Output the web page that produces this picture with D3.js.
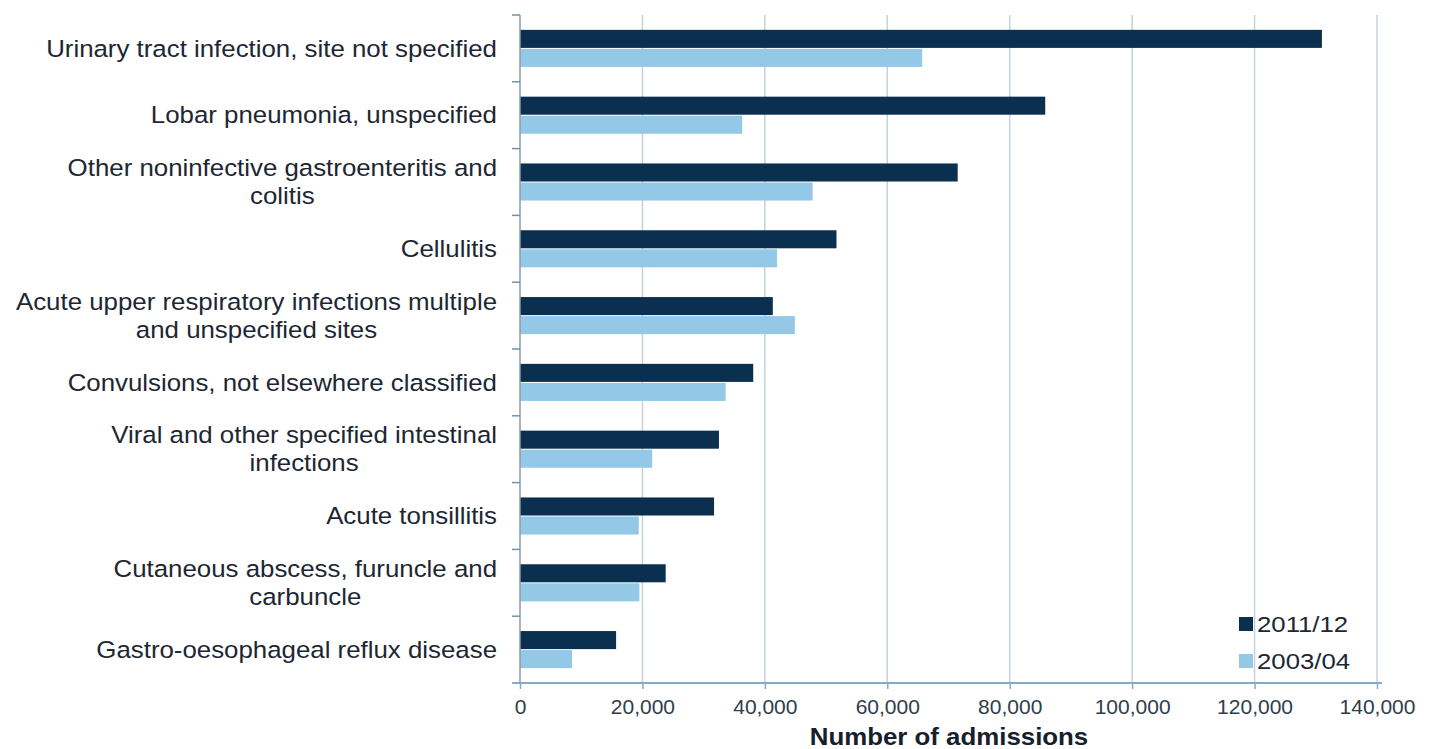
<!DOCTYPE html>
<html><head><meta charset="utf-8">
<script src="https://cdn.jsdelivr.net/npm/d3@7"></script>
<style>
html,body{margin:0;padding:0;background:#fff;}
text{font-family:"Liberation Sans",Arial,sans-serif;}
</style></head>
<body>
<svg id="chart" width="1434" height="749"></svg>
<script>
const categories = [
  "Urinary tract infection, site not specified",
  "Lobar pneumonia, unspecified",
  "Other noninfective gastroenteritis and\ncolitis",
  "Cellulitis",
  "Acute upper respiratory infections multiple\nand unspecified sites",
  "Convulsions, not elsewhere classified",
  "Viral and other specified intestinal\ninfections",
  "Acute tonsillitis",
  "Cutaneous abscess, furuncle and\ncarbuncle",
  "Gastro-oesophageal reflux disease"
];
const seriesNames = ["2011/12", "2003/04"];
const values2011 = [131000, 85800, 71500, 51700, 41300, 38100, 32500, 31700, 23800, 15700];
const values2003 = [65700, 36300, 47800, 42000, 44900, 33600, 21600, 19400, 19500, 8500];
const xTicks = [0, 20000, 40000, 60000, 80000, 100000, 120000, 140000];
const colors = ["#0b2f4e", "#93c9e6"];

(function () {
const svg = d3.select("#chart");
const pLeft = 520, pRight = 1377, pTop = 15, pBottom = 683;
const SX = 1.1;

const x = d3.scaleLinear().domain([0, 140000]).range([pLeft, pRight]);
const y = d3.scaleBand().domain(categories).range([pTop, pBottom]).paddingInner(0.43).paddingOuter(0.215);
const inner = d3.scaleBand().domain(seriesNames).range([0, y.bandwidth()]);

// gridlines
svg.append("g").selectAll("line").data(xTicks.slice(1)).join("line")
  .attr("x1", d => x(d)).attr("x2", d => x(d))
  .attr("y1", pTop).attr("y2", pBottom)
  .attr("stroke", "#c3d2df").attr("stroke-width", 1.5);

// bars
const data = categories.map((c, i) => ({c, v: [values2011[i], values2003[i]]}));
const g = svg.append("g").selectAll("g").data(data).join("g")
  .attr("transform", d => `translate(0,${y(d.c)})`);
g.selectAll("rect").data(d => d.v.map((v, j) => ({v, s: seriesNames[j], j}))).join("rect")
  .attr("x", x(0)).attr("y", d => inner(d.s) + 0.5)
  .attr("width", d => x(d.v) - x(0)).attr("height", inner.bandwidth() - 1)
  .attr("fill", d => colors[d.j]);

// left axis line and ticks
const bandStep = (pBottom - pTop) / categories.length;
svg.append("line").attr("x1", pLeft).attr("x2", pLeft).attr("y1", pTop).attr("y2", pBottom)
  .attr("stroke", "#8c9aa6").attr("stroke-width", 1.5);
svg.append("g").selectAll("line").data(d3.range(categories.length + 1)).join("line")
  .attr("x1", pLeft - 8).attr("x2", pLeft)
  .attr("y1", i => pTop + i * bandStep).attr("y2", i => pTop + i * bandStep)
  .attr("stroke", "#6f93ad").attr("stroke-width", 1.5);

// bottom axis
const xAxis = d3.axisBottom(x).tickValues(xTicks).tickFormat(d3.format(",")).tickSize(6).tickSizeOuter(0);
const ax = svg.append("g").attr("transform", `translate(0,${pBottom})`).call(xAxis);
ax.select(".domain").attr("stroke", "#86aac3").attr("stroke-width", 2).attr("d", `M${pLeft - 5},0H${pRight + 5}`);
ax.selectAll(".tick line").attr("stroke", "#86aac3").attr("stroke-width", 1.5);
ax.selectAll(".tick text").attr("font-size", 21).attr("fill", "#2f3d4b").attr("y", 12).attr("dy", "0.9em")
  .style("font-family", "'Liberation Sans', Arial, sans-serif");

// axis title
svg.append("g").attr("transform", `translate(949,745) scale(${SX},1)`)
  .append("text").attr("x", 0).attr("y", 0).attr("text-anchor", "middle")
  .attr("font-size", 23.5).attr("font-weight", "bold").attr("fill", "#15202b")
  .text("Number of admissions");

// category labels (centered lines, right-aligned block)
const rightEdge = 497;
const labelG = svg.append("g").attr("transform", `translate(${rightEdge},0) scale(${SX},1)`);
categories.forEach(c => {
  const lines = c.split("\n");
  const cy = y(c) + y.bandwidth() / 2;
  const t = labelG.append("text").attr("font-size", 23.5).attr("fill", "#1d2733");
  const lh = 28;
  lines.forEach((ln, k) => {
    t.append("tspan").attr("y", cy + (k - (lines.length - 1) / 2) * lh).attr("dy", "0.35em").text(ln);
  });
  const tspans = t.selectAll("tspan").nodes();
  const maxW = d3.max(tspans.map(n => n.getComputedTextLength()));
  tspans.forEach(n => {
    d3.select(n).attr("x", -maxW / 2).attr("text-anchor", "middle");
  });
});

// legend
const leg = svg.append("g");
seriesNames.forEach((s, i) => {
  const ly = 624 + i * 37;
  leg.append("rect").attr("x", 1239).attr("y", ly - 7).attr("width", 14).attr("height", 14).attr("fill", colors[i]);
  leg.append("g").attr("transform", `translate(1257,${ly}) scale(1.12,1)`)
    .append("text").attr("x", 0).attr("y", 0).attr("dy", "0.36em").attr("font-size", 23).attr("fill", "#1d2733").text(s);
});
})();
</script>
</body></html>
